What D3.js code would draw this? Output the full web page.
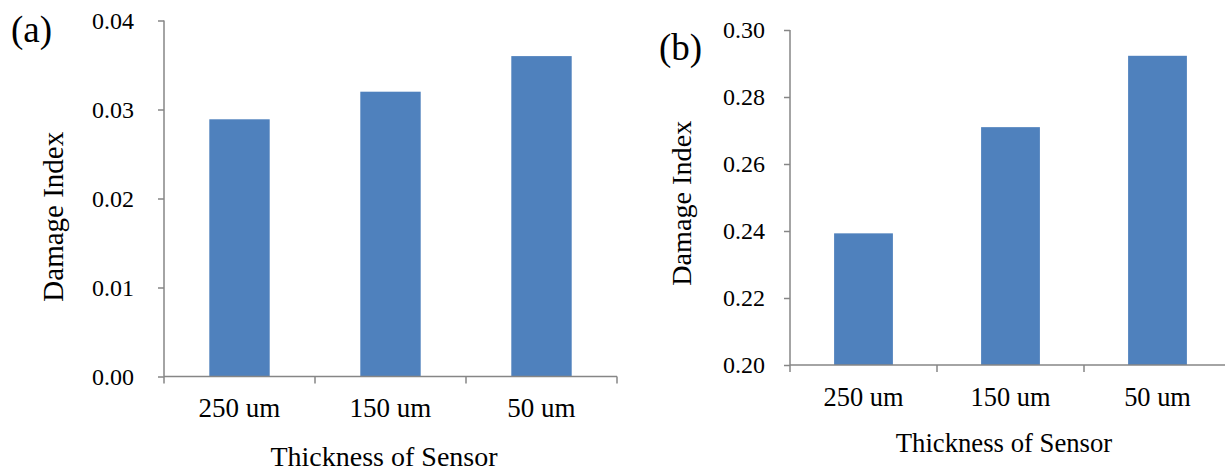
<!DOCTYPE html>
<html>
<head>
<meta charset="utf-8">
<script src="https://cdn.jsdelivr.net/npm/d3@7"></script>
<style>
  body { margin: 0; background: #fff; }
  svg text { font-family: "Liberation Serif", "Times New Roman", serif; fill: #000; }
</style>
</head>
<body>
<svg id="container" width="1225" height="472"></svg>
<script>
const categories = ["250 um", "150 um", "50 um"];
const valuesA = [0.0289, 0.0320, 0.0360];
const valuesB = [0.2393, 0.2710, 0.2923];
const ticksA = [0.00, 0.01, 0.02, 0.03, 0.04];
const ticksB = [0.20, 0.22, 0.24, 0.26, 0.28, 0.30];

const svg = d3.select("#container");
const axisColor = "#868686";
const barColor = "#4F81BD";

// one panel per chart
var panel = function(opt) {
    const x = d3.scaleBand()
        .domain(categories)
        .range([opt.left, opt.right])
        .paddingInner(0.6)
        .paddingOuter(0.3);

    const y = d3.scaleLinear()
        .domain(opt.domain)
        .range([opt.bottom, opt.top]);

    const g = svg.append("g");

    g.append("g")
        .selectAll("rect")
        .data(opt.values)
        .join("rect")
        .attr("x", (d, i) => x(categories[i]))
        .attr("width", x.bandwidth())
        .attr("y", d => y(d))
        .attr("height", d => y(opt.domain[0]) - y(d))
        .attr("fill", barColor);

    // y axis
    const yAxis = g.append("g")
        .attr("transform", `translate(${opt.left},0)`)
        .call(d3.axisLeft(y).tickValues(opt.ticks).tickFormat(d3.format(".2f")).tickSize(6).tickPadding(opt.yPad));
    yAxis.select(".domain").attr("stroke", axisColor).attr("stroke-width", 1.5).attr("d", `M0,${opt.top}V${opt.bottom}`);
    yAxis.selectAll(".tick line").attr("stroke", axisColor).attr("stroke-width", 1.5);
    yAxis.selectAll(".tick text").attr("font-size", opt.fs.yTick).attr("dy", "0.33em");

    // x axis with ticks between categories
    const xg = g.append("g")
        .attr("transform", `translate(0,${opt.bottom})`);
    xg.append("line")
        .attr("x1", opt.left).attr("x2", opt.right)
        .attr("stroke", axisColor).attr("stroke-width", 1.5);
    const bounds = [opt.left].concat(categories.slice(1).map(c => x(c) - (x.step() - x.bandwidth()) / 2), [opt.right]);
    xg.selectAll(".xt")
        .data(bounds)
        .join("line")
        .attr("class", "xt")
        .attr("x1", d => d).attr("x2", d => d)
        .attr("y1", 0).attr("y2", 7)
        .attr("stroke", axisColor).attr("stroke-width", 1.5);
    xg.selectAll(".xl")
        .data(categories)
        .join("text")
        .attr("class", "xl")
        .attr("x", d => x(d) + x.bandwidth() / 2)
        .attr("y", opt.xLabelDy)
        .attr("text-anchor", "middle")
        .attr("font-size", opt.fs.xTick)
        .text(d => d);

    g.append("text")
        .attr("x", opt.xTitle[0]).attr("y", opt.xTitle[1])
        .attr("text-anchor", "middle")
        .attr("font-size", opt.fs.xTitle)
        .text("Thickness of Sensor");

    g.append("text")
        .attr("transform", `translate(${opt.yTitle[0]},${opt.yTitle[1]}) rotate(-90)`)
        .attr("text-anchor", "middle")
        .attr("font-size", opt.fs.yTitle)
        .text("Damage Index");

    g.append("text")
        .attr("x", opt.tag[0]).attr("y", opt.tag[1])
        .attr("font-size", 37)
        .text(opt.label);
}

panel({
    left: 164, right: 617, top: 20.5, bottom: 376.5,
    domain: [0, 0.04], values: valuesA, ticks: ticksA, yPad: 24,
    fs: {yTick: 24, xTick: 27, xTitle: 28, yTitle: 29},
    xLabelDy: 40, xTitle: [384, 466], yTitle: [62.5, 216.7],
    tag: [11, 42], label: "(a)"
});

panel({
    left: 790, right: 1231, top: 30, bottom: 365,
    domain: [0.20, 0.30], values: valuesB, ticks: ticksB, yPad: 19,
    fs: {yTick: 24, xTick: 26.4, xTitle: 26.7, yTitle: 28.2},
    xLabelDy: 41, xTitle: [1004, 452], yTitle: [691.4, 203.3],
    tag: [659, 60], label: "(b)"
});
</script>
</body>
</html>
